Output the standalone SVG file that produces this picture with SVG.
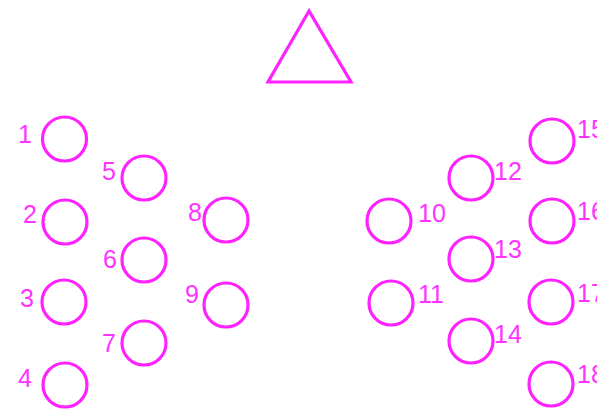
<svg xmlns="http://www.w3.org/2000/svg" width="597" height="409" viewBox="0 0 597 409">
<style>
.n circle{fill:none;stroke:#ff22ff;stroke-width:3.2}
.n text{font-family:"Liberation Sans",Arial,sans-serif;font-size:25px;fill:#ff33ff}
.l{text-anchor:end}
</style>
<rect width="597" height="409" fill="#fff"/>
<g id="stage"><polygon points="309,11 268,82 351,82" fill="none" stroke="#ff22ff" stroke-width="3.2" stroke-linejoin="miter"/></g>
<g id="connectors"></g>
<g id="n1" class="n"><circle cx="64.5" cy="139" r="22"/><text class="l" x="32" y="143">1</text></g>
<g id="n2" class="n"><circle cx="65" cy="222" r="22"/><text class="l" x="37" y="223">2</text></g>
<g id="n3" class="n"><circle cx="64" cy="302" r="22"/><text class="l" x="34" y="307">3</text></g>
<g id="n4" class="n"><circle cx="65" cy="385" r="22"/><text class="l" x="32" y="387">4</text></g>
<g id="n5" class="n"><circle cx="144" cy="178" r="22"/><text class="l" x="116" y="180">5</text></g>
<g id="n6" class="n"><circle cx="144" cy="260" r="22"/><text class="l" x="117" y="268">6</text></g>
<g id="n7" class="n"><circle cx="144" cy="343" r="22"/><text class="l" x="116" y="352">7</text></g>
<g id="n8" class="n"><circle cx="226" cy="220" r="22"/><text class="l" x="202" y="221">8</text></g>
<g id="n9" class="n"><circle cx="226" cy="305" r="22"/><text class="l" x="199" y="303">9</text></g>
<g id="n10" class="n"><circle cx="389" cy="221" r="22"/><text x="418" y="222">10</text></g>
<g id="n11" class="n"><circle cx="391" cy="303" r="22"/><text x="418" y="303">11</text></g>
<g id="n12" class="n"><circle cx="471" cy="178" r="22"/><text x="494" y="180">12</text></g>
<g id="n13" class="n"><circle cx="471" cy="259" r="22"/><text x="494" y="258">13</text></g>
<g id="n14" class="n"><circle cx="471" cy="341" r="22"/><text x="494" y="343">14</text></g>
<g id="n15" class="n"><circle cx="552" cy="141" r="22"/><text x="577" y="138">15</text></g>
<g id="n16" class="n"><circle cx="552" cy="221" r="22"/><text x="577" y="220">16</text></g>
<g id="n17" class="n"><circle cx="551" cy="302" r="22"/><text x="577" y="302">17</text></g>
<g id="n18" class="n"><circle cx="551" cy="384" r="22"/><text x="577" y="383">18</text></g>
</svg>
